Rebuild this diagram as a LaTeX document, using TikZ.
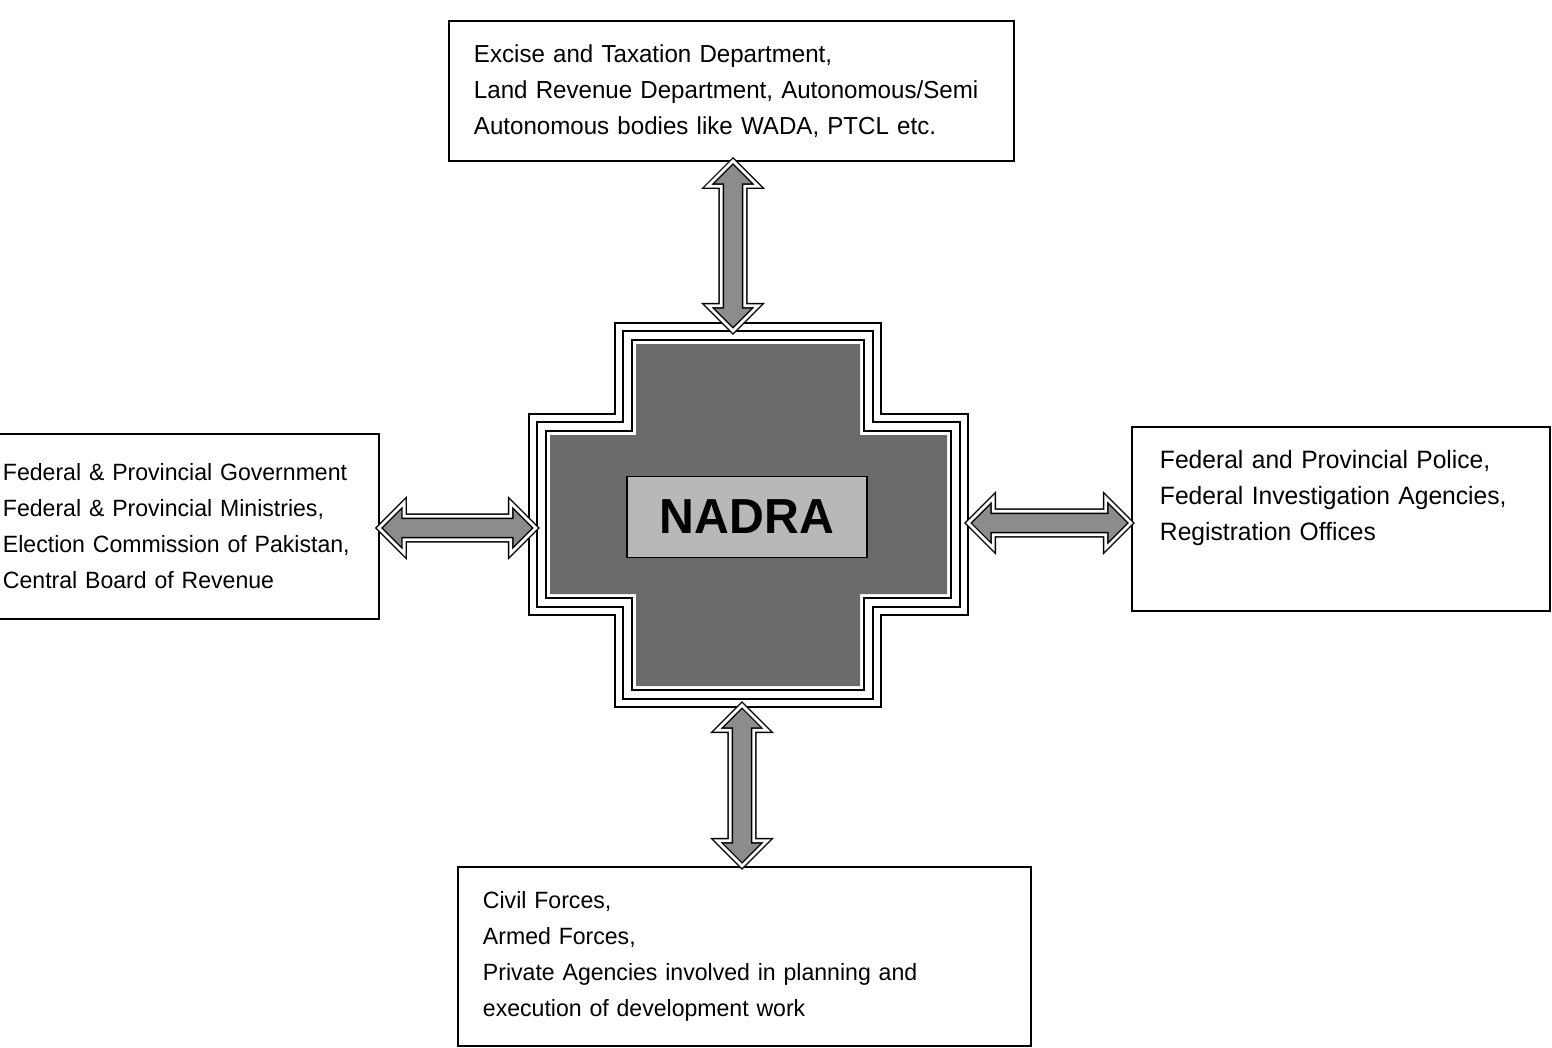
\documentclass[tikz,border=0pt]{standalone}
\usepackage{fontspec}
\setmainfont[FakeStretch=0.98]{Liberation Sans}
\usetikzlibrary{calc, positioning, shapes.arrows}
\hyphenpenalty=10000

% one outline of the cross, pulled in by #1 (pixels)
\newcommand{\crossline}[1]{(615+#1,323+#1) -- (881-#1,323+#1) -- (881-#1,414+#1) -- (968-#1,414+#1) -- (968-#1,615-#1) -- (881-#1,615-#1) -- (881-#1,707-#1) -- (615+#1,707-#1) -- (615+#1,615-#1) -- (529+#1,615-#1) -- (529+#1,414+#1) -- (615+#1,414+#1) -- cycle}

\tikzset{
  agency/.style={rectangle, draw=black, line width=1.1pt, anchor=north west, align=left, inner ysep=0pt,
    font=\fontsize{14}{20.5}\selectfont},
  smalltext/.style={font=\fontsize{13.4}{20.5}\selectfont},
  linkarrow/.style={double arrow, draw=black, line width=0.8pt, double, double distance=1.6pt, fill=black!45,
    inner xsep=0pt, inner ysep=0.22cm, double arrow head extend=0.27cm, double arrow tip angle=90},
}

\begin{document}
\begin{tikzpicture}[x=0.02cm,y=-0.02cm]
\useasboundingbox (0,0) rectangle (1552,1048);

% the four groups of agencies
\node[agency, inner xsep=0.5cm, text width=10.3cm, minimum height=2.8cm] (taxation) at (448,20)
  {Excise and Taxation Department,\\Land Revenue Department, Autonomous/Semi\\Autonomous bodies like WADA, PTCL etc.};
\node[agency, smalltext, inner xsep=0.2cm, text width=7.32cm, minimum height=3.7cm] (government) at (-8,433)
  {Federal \& Provincial Government\\Federal \& Provincial Ministries,\\Election Commission of Pakistan,\\Central Board of Revenue};
\node[agency, font=\fontsize{14.3}{20.5}\selectfont, inner xsep=0.56cm, text width=7.24cm, minimum height=3.68cm] (police) at (1131,426)
  {Federal and Provincial Police,\\Federal Investigation Agencies,\\Registration Offices\\\strut};
\node[agency, smalltext, inner xsep=0.5cm, text width=10.46cm, minimum height=3.58cm] (forces) at (457,866)
  {Civil Forces,\\Armed Forces,\\Private Agencies involved in planning and\\execution of development work};

% NADRA cross
\fill[black!58] \crossline{21};
\foreach \d in {0,8,17}
  \draw[line width=1pt] \crossline{\d};
\node[draw=black, line width=1pt, fill=black!28, minimum width=4.8cm, minimum height=1.62cm,
  font=\fontsize{28}{28}\selectfont\bfseries] (nadra) at (747,517) {NADRA};

\coordinate (nadraN) at (733,330);
\coordinate (nadraS) at (742,705);
\coordinate (nadraW) at (535,528);
\coordinate (nadraE) at (968,523);

% links
\path (taxation.south -| nadraN) -- (nadraN) node[midway, linkarrow, rotate=90, minimum height=3.4cm] {};
\path (nadraS) -- (forces.north -| nadraS) node[midway, linkarrow, rotate=90, minimum height=3.22cm] {};
\path (government.east |- nadraW) -- (nadraW) node[midway, linkarrow, minimum height=3.14cm] {};
\path (nadraE) -- (police.west |- nadraE) node[midway, linkarrow, minimum height=3.26cm] {};
\end{tikzpicture}
\end{document}
